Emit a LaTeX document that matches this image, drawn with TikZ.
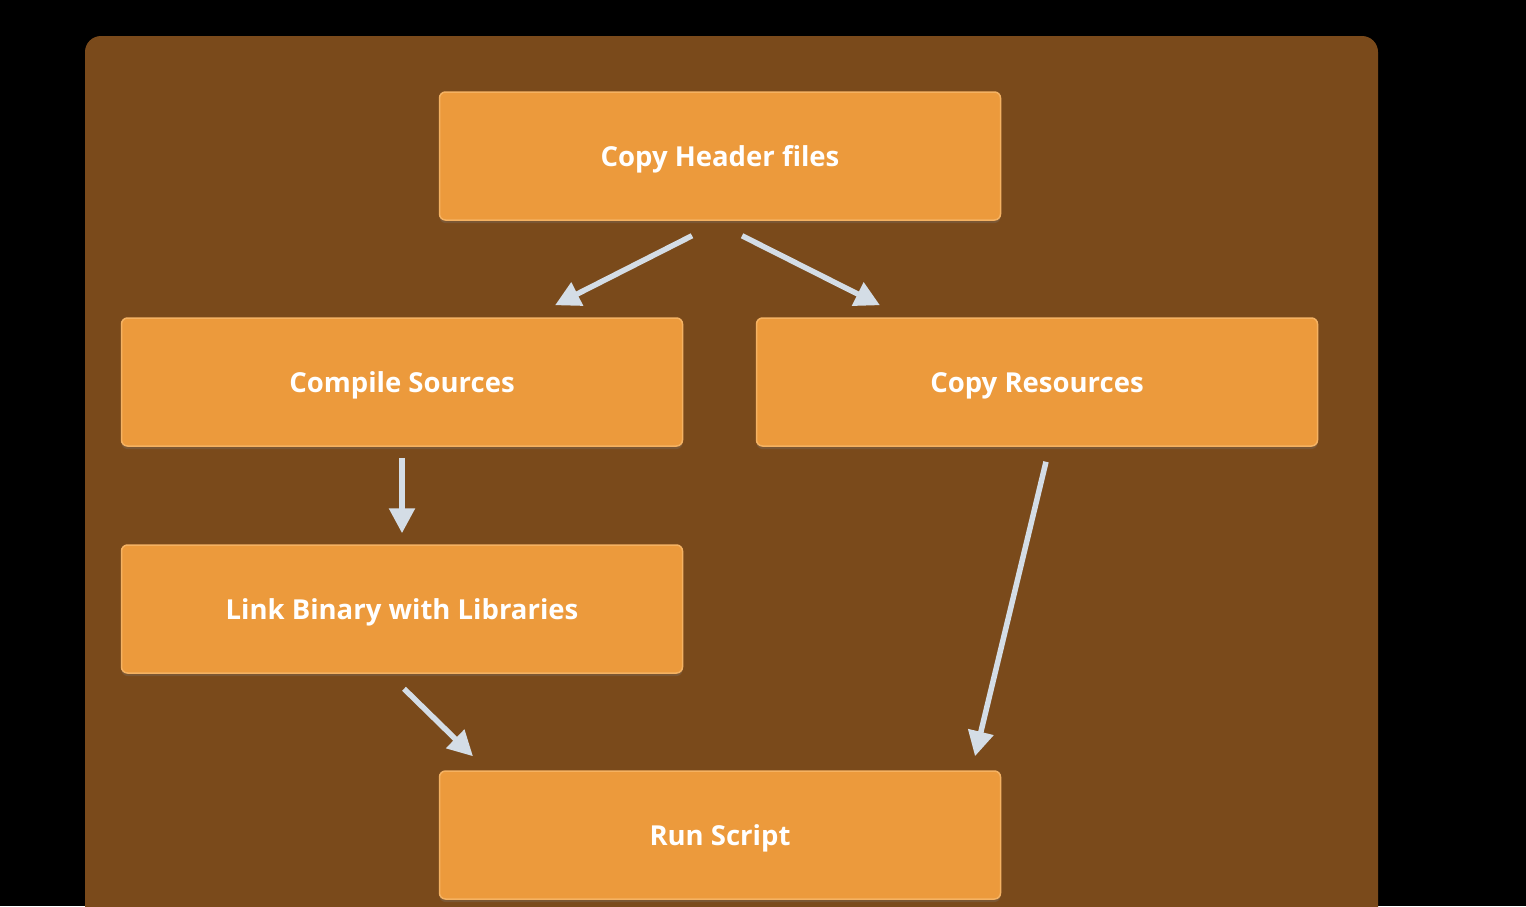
\documentclass[tikz,border=0pt]{standalone}
\usepackage{fontspec}
\setmainfont{Open Sans}
\usetikzlibrary{arrows.meta,shadows}
\definecolor{panel}{HTML}{7A4A1B}
\definecolor{boxfill}{HTML}{EC9A3C}
\definecolor{boxline}{HTML}{F5B262}
\definecolor{arrowc}{HTML}{D4DDE6}

\begin{document}
\begin{tikzpicture}[x=1pt, y=-1pt,
  phase/.style={draw=boxline, line width=1.5pt, fill=boxfill, rounded corners=6pt,
    minimum width=561pt, minimum height=128pt, text=white, font=\fontsize{27.5}{33}\selectfont\bfseries,
    text height=21pt, text depth=0pt,
    drop shadow={opacity=0.25, shadow xshift=0pt, shadow yshift=-3pt}},
  flow/.style={draw=arrowc, line width=5.5pt, -{Triangle[length=25pt,width=25pt]}}]
 \fill[black] (0,0) rectangle (1526,906);
 \useasboundingbox (0,0) rectangle (1526,906);
 \begin{scope}
  \clip (0,0) rectangle (1526,906);
  \fill[panel, rounded corners=16pt] (85,36) rectangle (1378,940);
 \end{scope}

 \node[phase] (H) at (720,156) {Copy Header files};
 \node[phase] (C) at (402,382) {Compile Sources};
 \node[phase] (R) at (1037,382) {Copy Resources};
 \node[phase] (L) at (402,609) {Link Binary with Libraries};
 \node[phase] (S) at (720,835) {Run Script};

 \draw[flow] ([xshift=-28pt,yshift=-15pt]H.south) -- ([xshift=153pt,yshift=12pt]C.north);
 \draw[flow] ([xshift=22pt,yshift=-15pt]H.south) -- ([xshift=-157pt,yshift=12pt]R.north);
 \draw[flow] ([yshift=-11pt]C.south) -- ([yshift=11pt]L.north);
 \draw[flow] ([xshift=2pt,yshift=-15pt]L.south) -- ([xshift=-247pt,yshift=14pt]S.north);
 \draw[flow] ([xshift=9pt,yshift=-15pt]R.south) -- ([xshift=255pt,yshift=14pt]S.north);
\end{tikzpicture}
\end{document}
